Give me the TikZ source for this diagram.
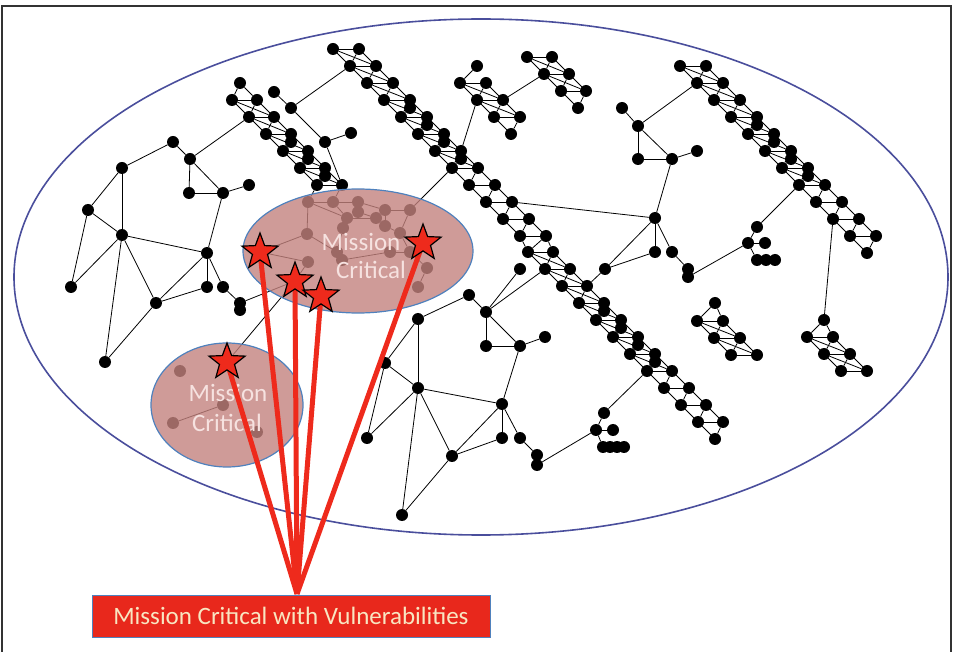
\documentclass[tikz,border=0pt]{standalone}
\usepackage{fontspec}
\setmainfont{Carlito}
\usetikzlibrary{shapes.geometric}
\pgfdeclarelayer{bg}
\pgfsetlayers{bg,main}

\definecolor{ringblue}{HTML}{4A4E9C}
\definecolor{mcfill}{HTML}{C3827E}
\definecolor{mcedge}{HTML}{4F81BD}
\definecolor{mctext}{HTML}{F6E2E0}
\definecolor{alertred}{HTML}{EE2A1C}
\definecolor{boxred}{HTML}{E8281C}
\definecolor{boxtext}{HTML}{F8E6C2}
\definecolor{framegray}{HTML}{333333}

\tikzset{
  dot/.style={circle,fill=black,inner sep=0pt,minimum size=12pt},
  link/.style={line width=0.8pt,draw=black},
  mc/.style={ellipse,draw=mcedge,line width=1.2pt,fill=mcfill,fill opacity=0.8,inner sep=0pt},
  mclabel/.style={text=mctext,font=\fontsize{25}{28}\selectfont,inner sep=0pt},
  alert/.style={draw=alertred,line width=5pt},
  starmark/.style={star,star points=5,star point ratio=2.4,minimum size=38pt,inner sep=0pt,
                   fill=alertred,draw=black,line width=1.2pt},
  vbox/.style={fill=boxred,draw=mcedge,line width=0.8pt,minimum width=398pt,minimum height=42pt,
               inner sep=0pt,text=boxtext,font=\fontsize{25}{30}\selectfont},
}

% diagonal ladder: name, xA, y0, xB, last A index, last B index, crossings below this index
\newcommand\mkladder[7]{%
  \foreach \k in {0,...,#5}{\node[dot] (#1a\k) at ({#2+17*\k},{#3+17*\k}) {};}
  \foreach \k in {0,...,#6}{\node[dot] (#1b\k) at ({#4+17*\k},{#3+17*\k}) {};}
  \begin{pgfonlayer}{bg}
    \draw[link] (#1a0.center) -- (#1a#5.center);
    \draw[link] (#1b0.center) -- (#1b#6.center);
    \foreach \k [evaluate=\k as \kk using int(\k+1)] in {0,...,#6}{
      \draw[link] (#1a\k) -- (#1b\k);
      \ifnum\k<#5\relax \draw[link] (#1b\k) -- (#1a\kk);\fi
      \ifnum\k<#7\relax \ifnum\k<#6\relax \draw[link] (#1a\k) -- (#1b\kk);\fi\fi
    }
  \end{pgfonlayer}
}
% second nodes stacked under the B row: name, xB, y0, first, last
\newcommand\mkdoubles[5]{%
  \foreach \k [evaluate=\k as \kk using int(\k+1)] in {#4,...,#5}{
    \node[dot] (#1c\k) at ({#2+17*\k},{#3+17*\k+8}) {};
    \begin{pgfonlayer}{bg}\draw[link] (#1c\k) -- (#1a\kk);\end{pgfonlayer}
  }%
}
\newcommand\mkdots[1]{\foreach \n/\x/\y in {#1}{\node[dot] (\n) at (\x,\y) {};}}
\newcommand\mklinks[1]{\begin{pgfonlayer}{bg}\foreach \a/\b in {#1}{\draw[link] (\a) -- (\b);}\end{pgfonlayer}}

\begin{document}
\begin{tikzpicture}[x=1pt,y=-1pt]
\useasboundingbox (0,0) rectangle (954,652);

% page frame
\draw[framegray,line width=1.2pt] (2,652) -- (2,6) -- (951,6) -- (951,652);

% enterprise boundary
\node[ellipse,draw=ringblue,line width=1.6pt,minimum width=934pt,minimum height=516pt,inner sep=0pt] (ring) at (481,277) {};

% vulnerable hosts and the label anchor
\coordinate (k1) at (260,252);
\coordinate (k2) at (295,281);
\coordinate (k3) at (321,296);
\coordinate (k4) at (423,243);
\coordinate (k5) at (227,362);
\coordinate (ap) at (297,594);

% ladders
\mkladder{L1}{232}{100}{257}{5}{5}{5}
\mkdoubles{L1}{257}{100}{2}{4}
\mkladder{L2}{333}{49}{359}{11}{11}{7}
\mkdoubles{L2}{359}{49}{3}{6}
\mkladder{L3}{528}{252}{553}{11}{10}{7}
\mkdoubles{L3}{553}{252}{3}{6}
\mkladder{L4}{680}{66}{706}{11}{10}{7}
\mkdoubles{L4}{706}{66}{3}{6}
\mkladder{C3}{460}{83}{486}{3}{2}{2}
\mkladder{C4}{527}{57}{552}{3}{2}{2}
\mkladder{C7}{697}{321}{723}{2}{2}{2}
\mkladder{C8}{807}{337}{833}{2}{2}{2}

% left cluster
\mkdots{n1/173/142, h1/190/159, b1/122/168, q1/189/193, r1/223/193, s1/249/185, t1/88/210,
  u1/122/235, v1/207/253, w1/71/287, x1/207/287, y1/223/287, z1/156/303, p1/240/303,
  p1b/240/310, m1/105/362}
\mklinks{n1/h1, n1/b1, h1/q1, h1/r1, q1/r1, r1/s1, r1/v1, b1/t1, b1/u1, t1/u1, t1/w1,
  u1/w1, u1/v1, u1/z1, u1/m1, v1/x1, v1/z1, v1/y1, y1/p1, z1/x1, z1/m1, h1/L1a1, p1/p1b, p1/k2}

% hub between the two upper ladders
\mkdots{L1t/240/83, e1/274/92, h2/291/108, g2/325/142, g3/351/133, c3p/477/66}
\mklinks{L1t/L1a0, L1t/L1b0, e1/h2, h2/g2, g2/g3, g2/L1b5, h2/L2a1, L2a11/L3a0, L2b11/L3b0,
  L2b11/L3a0, c3p/C3a0, L2b6/C3a1, C3b1/C4a1}

% right cluster
\mkdots{rp/622/108, rh/638/126, rq/638/159, rr/672/159, rs/697/151, rc/655/218, rv/655/252,
  rw/672/252, rx/605/269, ry/688/269, ryb/688/277, ru/757/227, rt/748/243, rt2/765/243,
  rd1/757/260, rd2/766/260, rd3/775/260, c7p/715/303, c8p/824/320}
\mklinks{rp/rh, rh/rq, rh/rr, rq/rr, rr/rs, rh/L4a1, rr/rc, rc/L2b9, rc/rv, rc/rx, rv/rx,
  rc/rw, rw/ry, ry/ryb, ryb/rt, rt/ru, ru/L4a7, rt/rt2, rt/rd1, rd1/rd2, rd2/rd3, rx/L3b2,
  c7p/C7a0, c7p/C7b0, c8p/C8a0, c8p/C8b0, c8p/L4a9}

% lower middle cluster
\mkdots{m5p/469/295, m5h/486/312, m5e/520/269, m5q/486/346, m5r/520/346, m5s/545/337,
  m5b/418/319, m5t/385/363, m5u/418/388, m5v/502/404, m5w/367/438, m5x/502/438, m5y/520/438,
  m5z/452/456, m5pp/537/455, m5pq/537/465, m5m/402/515, c6u/604/413, c6t/596/430,
  c6t2/613/430, c6d1/603/447, c6d2/610/447, c6d3/617/447, c6d4/624/447}
\mklinks{m5p/m5h, m5p/m5b, m5h/m5e, m5h/L3a1, m5h/m5q, m5h/m5r, m5q/m5r, m5r/m5s, m5r/m5v,
  m5b/m5t, m5b/m5u, m5t/m5u, m5t/m5w, m5u/m5w, m5u/m5v, m5u/m5z, m5u/m5m, m5v/m5x, m5v/m5z,
  m5v/m5y, m5y/m5pp, m5pp/m5pq, m5z/m5x, m5z/m5m, m5pq/c6t, c6t/c6u, c6u/L3a7, c6t/c6t2,
  c6t/c6d1, c6d1/c6d2, c6d2/c6d3, c6d3/c6d4}

% hosts inside the mission critical zones
\mkdots{i1/308/202, i2/333/202, i3/358/202, i4/358/212, i5/385/210, i6/410/210, i7/347/218,
  i8/376/218, i9/307/234, i10/343/228, i11/385/226, i12/400/233, i13/337/252, i14/342/260,
  i15/390/252, i16/410/252, i17/427/268, i18/418/287, i19/308/262,
  j1/180/371, j2/223/405, j3/173/423, j4/257/432}
\mklinks{L1a5/i1, L1b5/i2, i1/i2, i2/i3, i3/i4, i3/i5, i5/i6, i1/i7, i2/i7, i7/i8, i4/i8,
  i8/i11, i5/i11, i11/i12, i6/i12, i9/i1, i9/k1, i9/i13, i10/i13, i10/i7, i13/i14, i14/i15,
  i15/i16, i12/i16, i16/i17, i17/i18, i19/k1, i19/k2, L2a7/i6, i16/k4, j3/j2, k5/k2}

% mission critical zones
\node[mc,minimum width=230pt,minimum height=124pt] (mcA) at (358,251) {};
\node[mc,minimum width=152pt,minimum height=124pt] (mcB) at (227,405) {};
\node[mclabel] (mcA1) at (361,242) {Mission};
\node[mclabel] (mcA2) at (371,270) {Critical};
\node[mclabel] (mcB1) at (228,393) {Mission};
\node[mclabel] (mcB2) at (227,423) {Critical};

% callout lines and vulnerable hosts
\foreach \s in {k1,k2,k3,k4,k5}{\draw[alert] (\s) -- (ap);}
\foreach \s/\t in {k1/st1,k2/st2,k3/st3,k4/st4,k5/st5}{\node[starmark] (\t) at (\s) {};}

\node[vbox] (box) at (291,616) {Mission Critical with Vulnerabilities};
\end{tikzpicture}
\end{document}
